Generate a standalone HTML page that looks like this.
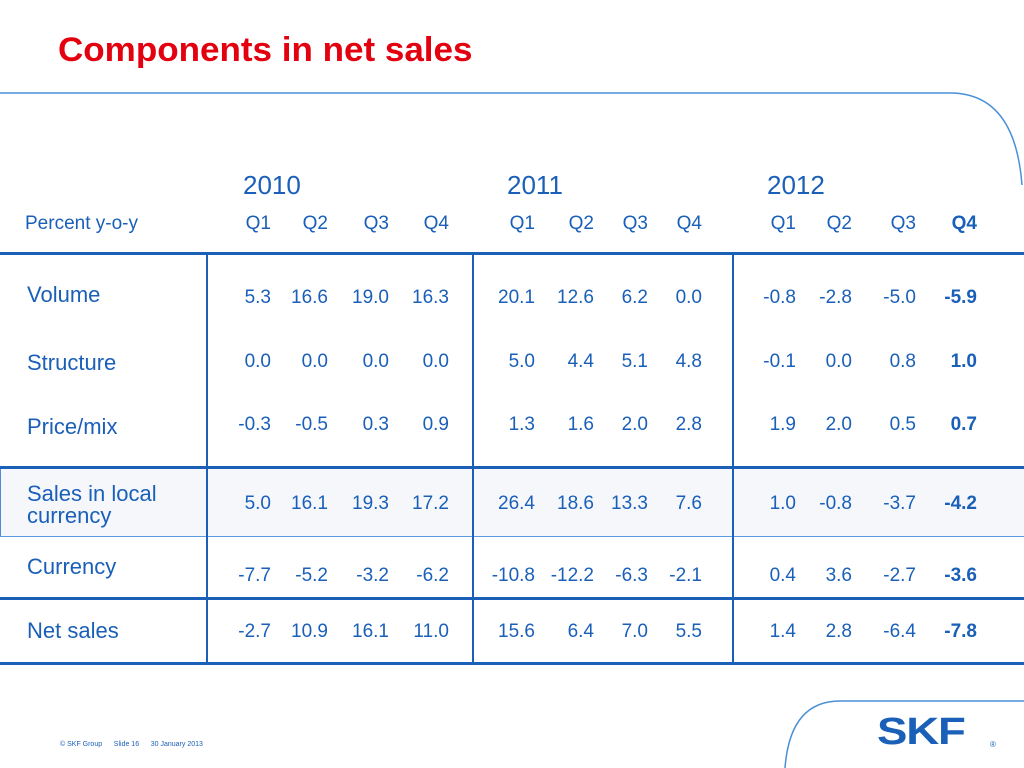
<!DOCTYPE html>
<html><head><meta charset="utf-8"><style>
body{margin:0;width:1024px;height:768px;overflow:hidden;background:#fff;font-family:"Liberation Sans",sans-serif;position:relative}
.a{position:absolute;white-space:nowrap}
.n{position:absolute;font-size:19px;color:#1a5fb8;text-align:right;width:70px;line-height:20px}
.l{position:absolute;left:27px;font-size:22px;color:#1a5fb8;line-height:22px}
.h{position:absolute;background:#1a5fb8}
</style></head><body>
<div class="a" style="left:58px;top:31px;font-size:34px;font-weight:bold;color:#e3000f;transform:scaleX(1.03);transform-origin:left">Components in net sales</div>
<svg class="a" style="left:0;top:0" width="1024" height="768">
<path d="M0 93 L950 93 Q1015 93 1022 185" fill="none" stroke="#4a90d9" stroke-width="1.5"/>
<path d="M1024 701 L840 701 Q790 701 785 768" fill="none" stroke="#4a90d9" stroke-width="1.5"/>
</svg>
<div class="a" style="left:0;top:468px;width:1024px;height:69px;background:#f5f7fb;border-left:1px solid #4a90d9"></div>
<div class="h" style="left:0;top:252px;width:1024px;height:3px"></div>
<div class="h" style="left:0;top:466px;width:1024px;height:3px"></div>
<div class="h" style="left:0;top:536px;width:1024px;height:1px;background:#5a9be0"></div>
<div class="h" style="left:0;top:597px;width:1024px;height:3px"></div>
<div class="h" style="left:0;top:662px;width:1024px;height:3px"></div>
<div class="h" style="left:206px;top:253px;width:2px;height:410px"></div>
<div class="h" style="left:472px;top:253px;width:2px;height:410px"></div>
<div class="h" style="left:732px;top:253px;width:2px;height:410px"></div>
<div class="a" style="left:243px;top:170px;font-size:26px;color:#1a5fb8">2010</div>
<div class="a" style="left:507px;top:170px;font-size:26px;color:#1a5fb8">2011</div>
<div class="a" style="left:767px;top:170px;font-size:26px;color:#1a5fb8">2012</div>
<div class="a" style="left:25px;top:213px;font-size:19px;color:#1a5fb8">Percent y-o-y</div>
<div class="l" style="top:284px">Volume</div>
<div class="l" style="top:352px">Structure</div>
<div class="l" style="top:416px">Price/mix</div>
<div class="l" style="top:483px">Sales in local<br>currency</div>
<div class="l" style="top:556px">Currency</div>
<div class="l" style="top:620px">Net sales</div>
<div id="cells"></div>
<div class="a" style="left:60px;top:741px;font-size:7px;color:#1a5fb8">© SKF Group &nbsp;&nbsp;&nbsp;&nbsp; Slide 16 &nbsp;&nbsp;&nbsp;&nbsp; 30 January 2013</div>
<div class="a" style="left:877px;top:712px;font-size:38px;font-weight:900;color:#1a5fb8;letter-spacing:-1px;transform:scaleX(1.2);transform-origin:left;line-height:40px">SKF</div>
<div class="a" style="left:990px;top:740px;font-size:8px;color:#1a5fb8">®</div>
<script>
const quarters=["Q1","Q2","Q3","Q4","Q1","Q2","Q3","Q4","Q1","Q2","Q3","Q4"];
const volume=["5.3","16.6","19.0","16.3","20.1","12.6","6.2","0.0","-0.8","-2.8","-5.0","-5.9"];
const structure=["0.0","0.0","0.0","0.0","5.0","4.4","5.1","4.8","-0.1","0.0","0.8","1.0"];
const priceMix=["-0.3","-0.5","0.3","0.9","1.3","1.6","2.0","2.8","1.9","2.0","0.5","0.7"];
const salesLocal=["5.0","16.1","19.3","17.2","26.4","18.6","13.3","7.6","1.0","-0.8","-3.7","-4.2"];
const currency=["-7.7","-5.2","-3.2","-6.2","-10.8","-12.2","-6.3","-2.1","0.4","3.6","-2.7","-3.6"];
const netSales=["-2.7","10.9","16.1","11.0","15.6","6.4","7.0","5.5","1.4","2.8","-6.4","-7.8"];
const colRight=[271,328,389,449,535,594,648,702,796,852,916,977];
const rows=[["quarter",quarters,214],["volume",volume,288],["structure",structure,352],["price-mix",priceMix,415],["sales-local",salesLocal,494],["currency",currency,566],["net-sales",netSales,622]];
const host=document.getElementById('cells');
rows.forEach(r=>{r[1].forEach((v,i)=>{
 const d=document.createElement('div');d.className='n';
 
 
 d.style.left=(colRight[i]-70)+'px';d.style.top=r[2]+'px';
 if(i==11)d.style.fontWeight='bold';
 d.textContent=v;host.appendChild(d);});});
</script>
</body></html>
